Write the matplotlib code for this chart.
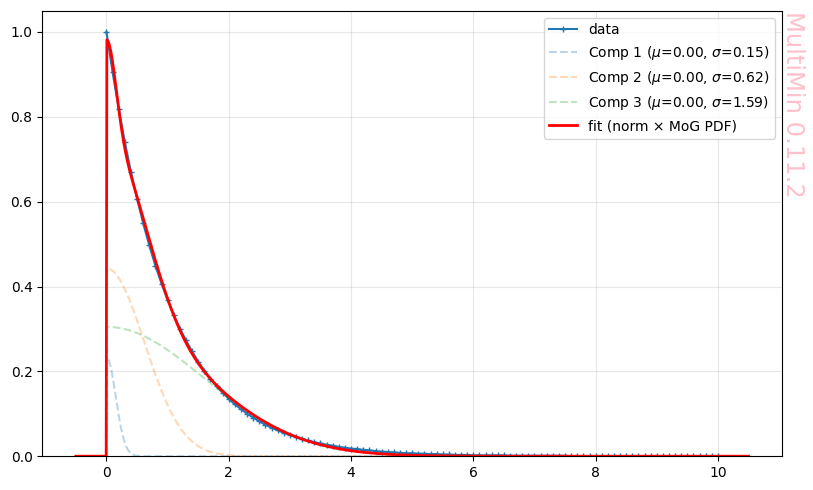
#!/usr/bin/env python3

import matplotlib
matplotlib.use("Agg")
import matplotlib.pyplot as plt
import numpy as np

# data samples (x step 0.1 from 0 to 10)
data_x = np.round(np.arange(0, 101) * 0.1, 1)
data_y = [
    1.000, 0.905, 0.819, 0.741, 0.670, 0.607, 0.549, 0.497, 0.449, 0.407,
    0.368, 0.333, 0.301, 0.273, 0.247, 0.223, 0.202, 0.183, 0.165, 0.150,
    0.135, 0.122, 0.111, 0.100, 0.091, 0.082, 0.074, 0.067, 0.061, 0.055,
    0.050, 0.045, 0.041, 0.037, 0.033, 0.030, 0.027, 0.025, 0.022, 0.020,
    0.018, 0.017, 0.015, 0.014, 0.012, 0.011, 0.010, 0.009, 0.008, 0.007,
    0.007, 0.006, 0.006, 0.005, 0.005, 0.004, 0.004, 0.003, 0.003, 0.003,
    0.002, 0.002, 0.002, 0.002, 0.002, 0.002, 0.001, 0.001, 0.001, 0.001,
    0.001, 0.001, 0.001, 0.001, 0.001, 0.001, 0.000, 0.000, 0.000, 0.000,
    0.000, 0.000, 0.000, 0.000, 0.000, 0.000, 0.000, 0.000, 0.000, 0.000,
    0.000, 0.000, 0.000, 0.000, 0.000, 0.000, 0.000, 0.000, 0.000, 0.000,
    0.000,
]

# mixture components (from legend) and their heights at x=0
comp_mu = [0.00, 0.00, 0.00]
comp_sigma = [0.15, 0.62, 1.59]
comp_height = [0.234, 0.443, 0.305]
comp_colors = ["C0", "C1", "C2"]

x = np.linspace(-0.5, 10.5, 1000)

fig = plt.figure(figsize=(8.13, 4.90), dpi=100)
ax = fig.add_axes([0.052, 0.069, 0.910, 0.909])

ax.plot(data_x, data_y, "-", marker="+", markersize=5, color="C0", label="data")

fit = np.zeros_like(x)
for i, (mu, sig, h, c) in enumerate(zip(comp_mu, comp_sigma, comp_height, comp_colors)):
    comp = np.where(x >= 0, h * np.exp(-0.5 * ((x - mu) / sig) ** 2), 0.0)
    fit += comp
    ax.plot(x, comp, "--", color=c, alpha=0.3, lw=1.5,
            label=r"Comp %d ($\mu$=%.2f, $\sigma$=%.2f)" % (i + 1, mu, sig))

ax.plot(x, fit, "-", color="red", lw=2, label="fit (norm \u00d7 MoG PDF)")

ax.set_ylim(bottom=0)
ax.grid(alpha=0.3)
ax.legend(loc="upper right")

fig.text(0.976, 0.978, "MultiMin 0.11.2", rotation=270, color="pink",
         fontsize=17.5, ha="center", va="top")

fig.savefig("out.png")
